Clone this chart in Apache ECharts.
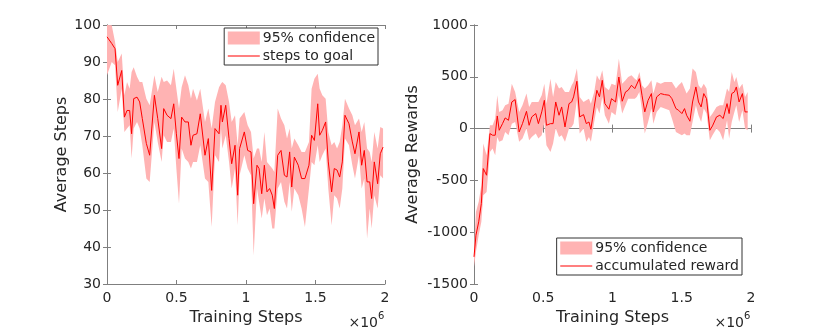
<!DOCTYPE html>
<html>
<head>
<meta charset="utf-8">
<script src="https://cdn.jsdelivr.net/npm/echarts@6/dist/echarts.min.js"></script>
<style>
  html, body { margin: 0; padding: 0; background: #fff; }
  #chart { width: 830px; height: 333px; }
</style>
</head>
<body>
<div id="chart"></div>
<script>
// training steps in millions (axis shows x10^6)
const stepsX = [0, 0.034, 0.058, 0.077, 0.106, 0.125, 0.144, 0.163, 0.177, 0.192, 0.216, 0.235, 0.254, 0.283, 0.307,
  0.341, 0.365, 0.393, 0.408, 0.432, 0.460, 0.480, 0.499, 0.518, 0.537, 0.561, 0.585, 0.604, 0.619, 0.647,
  0.671, 0.705, 0.729, 0.753, 0.777, 0.806, 0.820, 0.830, 0.854, 0.878, 0.897, 0.921, 0.940, 0.954, 0.988,
  1.012, 1.036, 1.055, 1.079, 1.094, 1.113, 1.132, 1.151, 1.170, 1.189, 1.204, 1.228, 1.252, 1.276, 1.295,
  1.314, 1.329, 1.348, 1.376, 1.400, 1.424, 1.453, 1.472, 1.492, 1.516, 1.530, 1.549, 1.573, 1.592, 1.616,
  1.635, 1.655, 1.674, 1.693, 1.712, 1.741, 1.765, 1.784, 1.813, 1.832, 1.851, 1.871, 1.890, 1.904, 1.923,
  1.947, 1.966, 1.986];
const stepsMean = [96.8, 95, 93.6, 83.7, 87.7, 75.1, 76.9, 76.9, 70.6, 80.1, 80.5, 79.2, 74.7, 68, 64.8,
  81, 74.7, 66.6, 77.4, 75.6, 74.7, 78.7, 70.6, 63.9, 75.1, 73.8, 73.8, 67.5, 70.2, 70.6,
  76, 64.8, 69.3, 55.3, 72, 70.6, 78.3, 73.8, 78.3, 69.3, 62.5, 67.5, 54, 66.6, 71.1,
  66.1, 65.7, 51.7, 62.1, 61.2, 54.4, 62.1, 54.9, 55.8, 54, 50.4, 64.8, 66.1, 59.4, 58.9,
  65.7, 56.2, 64.3, 62.1, 58.5, 58.5, 62.1, 70.2, 68.8, 78.7, 70.2, 71.5, 73.8, 63, 54.9,
  61.2, 60.8, 58.9, 63, 75.6, 73.3, 68.4, 65.2, 71.1, 62.1, 66.1, 57.6, 57.6, 53.1, 63,
  57.1, 65.2, 67];
const stepsUpper = [100, 99.9, 95.4, 90, 92.3, 81, 84.6, 82.8, 87.3, 88.6, 86, 84.6, 84.6, 80.1, 78.3,
  86.4, 81.9, 86, 84.6, 85, 83.7, 88.2, 82.8, 77.4, 83.2, 86.4, 83.7, 80.1, 82.8, 79.6,
  82.8, 73.8, 77.4, 72, 79.2, 83.2, 84.1, 84.6, 83.7, 79.2, 73.8, 75.6, 67.5, 74.7, 76.5,
  72.9, 71.1, 63.9, 66.6, 66.6, 63, 71.1, 63, 62.1, 61.2, 60.3, 77.4, 74.7, 72.9, 69.3,
  72, 66.6, 69.3, 67.5, 65.7, 65.7, 68.4, 82.8, 85.5, 86.8, 82.8, 81, 80.1, 71.1, 67.5,
  68.4, 66.6, 68.4, 72.9, 80.1, 77.4, 75.6, 72.9, 74.7, 71.1, 73.8, 66.6, 65.7, 63, 71.1,
  66.6, 72.4, 72];
const stepsLower = [86.4, 90, 89.1, 76.5, 82.8, 71.1, 72, 72.9, 63.9, 72, 73.8, 72, 67.5, 58.5, 57.6,
  73.8, 68.4, 63, 70.2, 68.4, 68.4, 72, 61.2, 51.7, 66.6, 63.9, 63, 61.2, 63, 63,
  67.5, 58.5, 57.6, 45.4, 64.8, 63, 72, 66.6, 70.2, 63, 55.8, 61.2, 45.9, 59.4, 64.8,
  61.2, 59.4, 37.7, 55.8, 52.2, 47.7, 53.1, 48.6, 50.4, 45, 45, 55.8, 57.6, 52.2, 50.4,
  57.6, 49.5, 55.8, 54, 50.4, 45.4, 55.8, 63, 62.1, 67.5, 63, 64.8, 66.6, 55.8, 45.9,
  54, 53.1, 50.4, 55.8, 69.3, 67.5, 62.1, 58.5, 64.8, 55.8, 58.5, 42.3, 50.4, 45, 54,
  50.4, 59.4, 58.5];

const rewardX = [0, 0.014, 0.034, 0.053, 0.067, 0.091, 0.115, 0.134, 0.153, 0.168, 0.182, 0.206, 0.225, 0.249, 0.273,
  0.297, 0.326, 0.350, 0.379, 0.398, 0.417, 0.446, 0.465, 0.489, 0.508, 0.523, 0.552, 0.571, 0.590, 0.614,
  0.633, 0.657, 0.686, 0.705, 0.719, 0.743, 0.763, 0.791, 0.811, 0.830, 0.844, 0.868, 0.887, 0.906, 0.926,
  0.945, 0.974, 0.993, 1.022, 1.046, 1.070, 1.094, 1.113, 1.137, 1.161, 1.175, 1.194, 1.213, 1.233, 1.257,
  1.281, 1.295, 1.319, 1.348, 1.376, 1.410, 1.429, 1.458, 1.477, 1.501, 1.520, 1.535, 1.559, 1.578, 1.602,
  1.621, 1.640, 1.659, 1.679, 1.703, 1.722, 1.751, 1.775, 1.799, 1.827, 1.842, 1.861, 1.880, 1.894, 1.914,
  1.938, 1.957, 1.976];
const rewardMean = [-1238, -1029, -900, -723, -386, -450, -48, -64, -64, 122, -16, 48, 103, 80, 257,
  280, -32, 48, 167, 32, 113, 145, 48, 161, 273, 32, 48, 48, 257, 129,
  209, 16, 241, 257, 306, 457, 113, 135, 48, 64, -6, 209, 370, 306, 466,
  241, 187, 289, 257, 498, 264, 354, 370, 418, 386, 392, 482, 322, 161, 273,
  338, 161, 306, 338, 328, 322, 289, 193, 177, 145, 193, 129, 71, 257, 402,
  257, 209, 338, 289, -16, 26, 113, 129, 97, 241, 145, 338, 354, 402, 257,
  338, 161, 161];
const rewardUpper = [-1157, -804, -707, -546, -145, -257, 32, 32, 97, 322, 161, 177, 225, 241, 434,
  354, 161, 225, 338, 209, 257, 257, 257, 322, 434, 241, 482, 306, 450, 386,
  402, 354, 354, 418, 450, 579, 306, 257, 273, 289, 241, 354, 514, 466, 563,
  402, 370, 434, 418, 675, 434, 466, 498, 514, 482, 466, 547, 418, 386, 418,
  466, 338, 450, 434, 450, 450, 450, 386, 418, 450, 386, 338, 386, 579, 547,
  418, 386, 434, 386, 113, 145, 209, 225, 225, 386, 354, 547, 450, 498, 386,
  434, 306, 354];
const rewardLower = [-1334, -1189, -1029, -900, -643, -611, -225, -193, -257, -80, -128, -112, -32, -64, 48,
  64, -128, -96, 3, -112, -80, -48, -96, -64, 64, -161, -225, -145, 3, -80,
  -64, -128, 0, 16, 48, 273, -48, 0, -128, -80, -128, 64, 209, 145, 306,
  129, 48, 161, 129, 322, 145, 225, 289, 289, 289, 306, 354, 177, -48, 64,
  193, 48, 161, 209, 193, 177, 97, -32, -48, -64, -48, -64, -64, 64, 225,
  129, 64, 193, 145, -112, -64, 0, -32, -112, 80, -96, 64, 161, 225, 64,
  177, 0, -16];

const xTicks = ['0', '0.5', '1', '1.5', '2'];

const bandColor = '#ffb3b3';
const lineColor = '#ff0000';
const txt = '#262626';
const boxColor = '#7f7f7f';

function xAxisFor(grid, pos, labels) {
  return {
    type: 'value', gridIndex: grid, position: pos, min: 0, max: 2, interval: 0.5,
    axisLine: { show: true, lineStyle: { color: boxColor, width: 1 } },
    axisTick: { show: true, inside: true, length: 4, lineStyle: { color: boxColor } },
    axisLabel: { show: labels, color: txt, fontSize: 14, margin: 7, formatter: v => xTicks[Math.round(v / 0.5)] },
    splitLine: { show: false },
    name: labels ? 'Training Steps' : '', nameLocation: 'middle', nameGap: 24,
    nameTextStyle: { color: txt, fontSize: 16 }
  };
}

function yAxisFor(grid, pos, labels, min, max, step, title, gap) {
  return {
    type: 'value', gridIndex: grid, position: pos, min: min, max: max, interval: step,
    axisLine: { show: true, lineStyle: { color: boxColor, width: 1 } },
    axisTick: { show: true, inside: true, length: 4, lineStyle: { color: boxColor } },
    axisLabel: { show: labels, color: txt, fontSize: 14, margin: 6, formatter: v => String(v) },
    splitLine: { show: false },
    name: labels ? title : '', nameLocation: 'middle', nameGap: gap, nameRotate: 90,
    nameTextStyle: { color: txt, fontSize: 16 }
  };
}

// confidence band as one polygon, placed through the axes with api.coord
function bandSeries(name, xs, lower, upper, axis) {
  return {
    name: name, type: 'custom', xAxisIndex: axis, yAxisIndex: axis, silent: true,
    color: bandColor, itemStyle: { color: bandColor },
    encode: { x: 0, y: [1, 2] },
    data: xs.map((x, i) => [x, lower[i], upper[i]]),
    renderItem: function (params, api) {
      if (params.dataIndex !== 0) return;
      const pts = [];
      for (let i = 0; i < xs.length; i++) pts.push(api.coord([xs[i], upper[i]]));
      for (let i = xs.length - 1; i >= 0; i--) pts.push(api.coord([xs[i], lower[i]]));
      return { type: 'polygon', shape: { points: pts }, style: { fill: bandColor } };
    }
  };
}

function meanSeries(name, xs, ys, axis) {
  return {
    name: name, type: 'line', xAxisIndex: axis, yAxisIndex: axis, symbol: 'none',
    color: lineColor, lineStyle: { color: lineColor, width: 1 },
    data: xs.map((x, i) => [x, ys[i]])
  };
}

function legendFor(names, right, top) {
  return {
    orient: 'vertical', right: right, top: top,
    data: [
      { name: names[0], icon: 'rect', itemStyle: { color: bandColor } },
      { name: names[1], itemStyle: { opacity: 0 }, lineStyle: { color: lineColor, width: 1.2 } }
    ],
    itemWidth: 32, itemHeight: 13, itemGap: 4,
    padding: [3, 3, 2, 3],
    borderColor: '#333', borderWidth: 1, backgroundColor: '#fff',
    selectedMode: false,
    textStyle: { color: txt, fontSize: 14, padding: [0, 0, 0, -2] }
  };
}

function exponentLabel(rightX) {
  return [
    { type: 'text', right: 830 - rightX + 7, top: 316, style: { text: '×10', fill: txt, font: '14px "DejaVu Sans"' } },
    { type: 'text', left: rightX - 7, top: 311, style: { text: '6', fill: txt, font: '10px "DejaVu Sans"' } }
  ];
}

const chart = echarts.init(document.getElementById('chart'));
chart.setOption({
  animation: false,
  backgroundColor: '#fff',
  textStyle: { fontFamily: 'DejaVu Sans' },
  grid: [
    { left: 107, top: 25, width: 278, height: 259 },
    { left: 474, top: 25, width: 277, height: 259 }
  ],
  xAxis: [
    xAxisFor(0, 'bottom', true), xAxisFor(0, 'top', false),
    xAxisFor(1, 'bottom', true), xAxisFor(1, 'top', false)
  ],
  yAxis: [
    yAxisFor(0, 'left', true, 30, 100, 10, 'Average Steps', 37), yAxisFor(0, 'right', false, 30, 100, 10, '', 0),
    yAxisFor(1, 'left', true, -1500, 1000, 500, 'Average Rewards', 53), yAxisFor(1, 'right', false, -1500, 1000, 500, '', 0)
  ],
  legend: [
    legendFor(['95% confidence', 'steps to goal'], 452, 28),
    legendFor(['95% confidence', 'accumulated reward'], 88, 238)
  ],
  graphic: exponentLabel(385).concat(exponentLabel(751)),
  series: [
    bandSeries('95% confidence', stepsX, stepsLower, stepsUpper, 0),
    meanSeries('steps to goal', stepsX, stepsMean, 0),
    bandSeries('95% confidence', rewardX, rewardLower, rewardUpper, 2),
    meanSeries('accumulated reward', rewardX, rewardMean, 2)
  ]
});
</script>
</body>
</html>
